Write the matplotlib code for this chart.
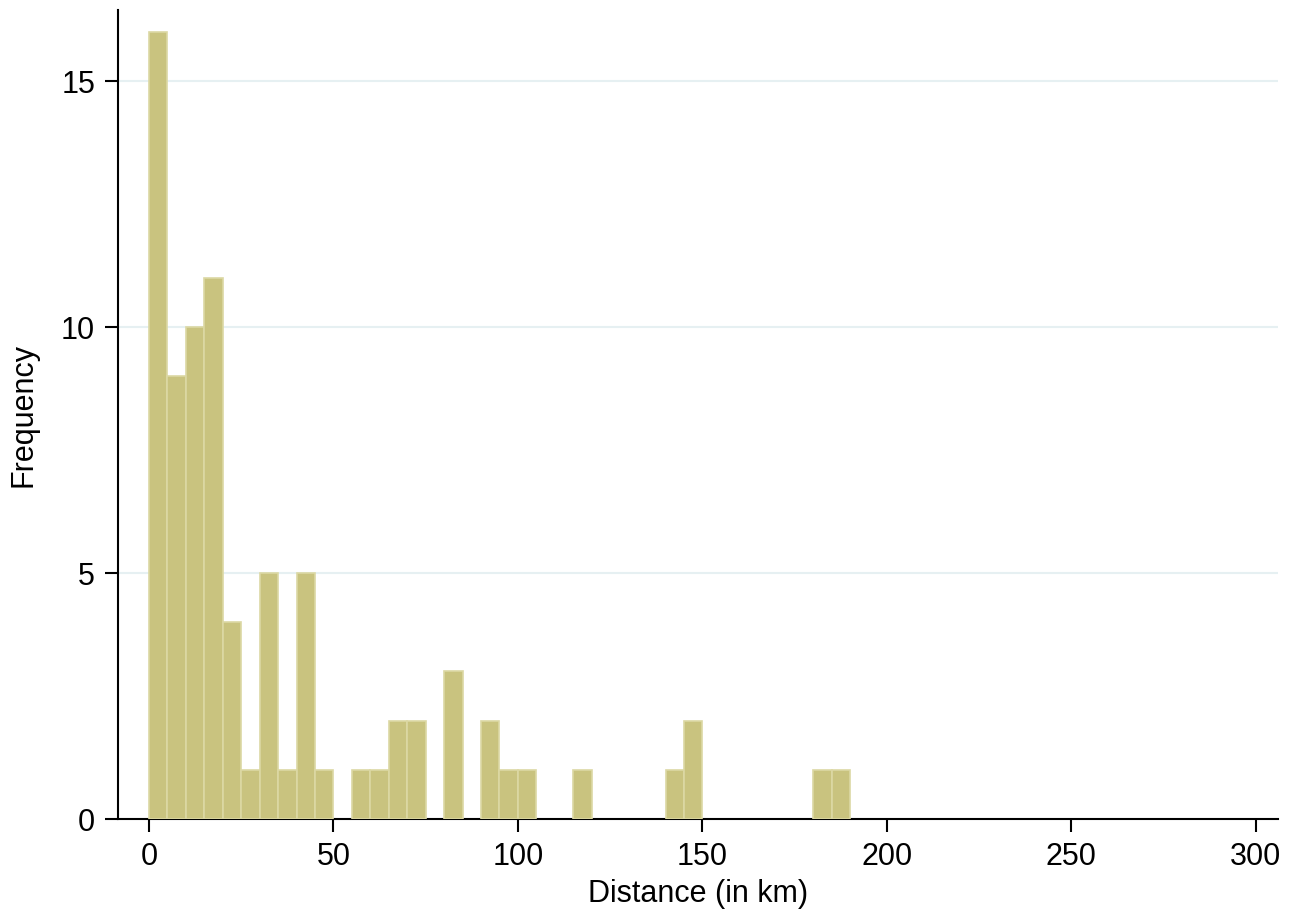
import matplotlib
matplotlib.use('Agg')
import matplotlib.pyplot as plt
import numpy as np

plt.rcParams['font.family'] = ['Liberation Sans', 'DejaVu Sans']

# histogram bins (width 5 km) and frequencies
bin_width = 5
bin_left = [0, 5, 10, 15, 20, 25, 30, 35, 40, 45, 55, 60, 65, 70, 80, 90, 95, 100,
            115, 140, 145, 180, 185]
counts = [16, 9, 10, 11, 4, 1, 5, 1, 5, 1, 1, 1, 2, 2, 3, 2, 1, 1,
          1, 1, 2, 1, 1]
xticks = [0, 50, 100, 150, 200, 250, 300]
yticks = [0, 5, 10, 15]

fig = plt.figure(figsize=(13.02, 9.09), dpi=100)
ax = fig.add_axes([0.0906, 0.099, 0.891, 0.890])

ax.bar(bin_left, counts, width=bin_width, align='edge',
       color='#c9c37f', edgecolor='#dcd8a4', linewidth=1.2, zorder=3)

for y in yticks[1:]:
    ax.axhline(y, color='#e6f0f2', linewidth=1.5, zorder=1)

ax.set_xlim(-8.4, 306)
ax.set_ylim(0, 16.45)
ax.set_xticks(xticks)
ax.set_yticks(yticks)

for s in ['top', 'right']:
    ax.spines[s].set_visible(False)
for s in ['left', 'bottom']:
    ax.spines[s].set_linewidth(1.5)
    ax.spines[s].set_color('black')

ax.tick_params(axis='both', direction='out', length=9.5, width=1.5,
               labelsize=22, pad=7)

ax.set_xlabel('Distance (in km)', fontsize=22, labelpad=5)
ax.set_ylabel('Frequency', fontsize=22, labelpad=16)

fig.savefig('out.png', dpi=100)
